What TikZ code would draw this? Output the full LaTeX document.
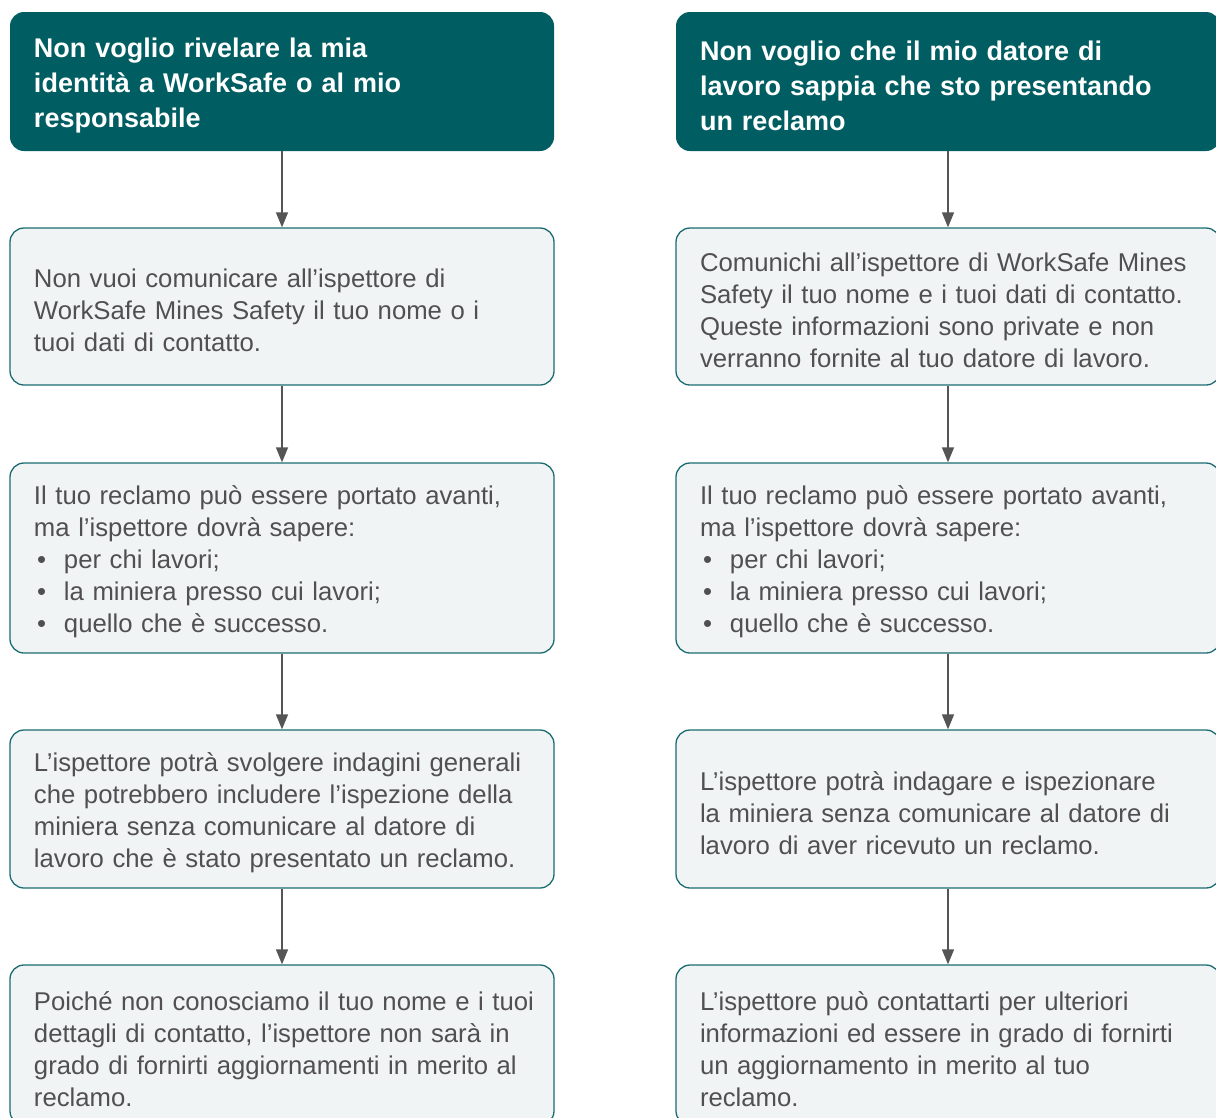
\documentclass[tikz,border=0pt]{standalone}
\usepackage{fontspec}
\setmainfont{Liberation Sans}
\usetikzlibrary{arrows.meta}
\definecolor{headteal}{HTML}{005E62}
\definecolor{edgeteal}{HTML}{1A6C70}
\definecolor{boxfill}{HTML}{F1F4F5}
\definecolor{bodytext}{HTML}{505050}
\definecolor{arrowgray}{HTML}{555555}
\newcommand{\bul}[1]{\hspace*{3pt}\makebox[27pt][l]{•}#1}
\tikzset{
  headbox/.style={rectangle, rounded corners=14pt, fill=headteal, text=white,
    minimum width=544pt, text width=530pt, align=left,
    execute at begin node={\leftskip=17pt},
    execute at end node={\par\vspace*{-8pt}},
    font=\fontsize{27}{35}\selectfont\bfseries},
  stepbox/.style={rectangle, rounded corners=14pt, draw=edgeteal, line width=1.3pt,
    fill=boxfill, text=bodytext, minimum width=544pt, text width=530pt, align=left,
    execute at begin node={\leftskip=17pt},
    execute at end node={\par\vspace*{-8pt}},
    font=\fontsize{25.7}{32}\selectfont},
  link/.style={draw=arrowgray, line width=1.4pt, -{Triangle[width=12pt,length=15pt]}}
}
\begin{document}
\begin{tikzpicture}[x=1pt, y=-1pt]
  \useasboundingbox (0,0) rectangle (1216,1117);

  % Nodes, left column
  \node[headbox, minimum height=139pt] (LeftHead) at (282, 81.5)
    {Non voglio rivelare la mia\\identità a WorkSafe o al mio\\responsabile};
  \node[stepbox, minimum height=157pt] (LeftName) at (282, 306.5)
    {Non vuoi comunicare all’ispettore di\\WorkSafe Mines Safety il tuo nome o i\\tuoi dati di contatto.};
  \node[stepbox, minimum height=190pt] (LeftNeed) at (282, 558)
    {Il tuo reclamo può essere portato avanti,\\ma l’ispettore dovrà sapere:\\\bul{per chi lavori;}\\\bul{la miniera presso cui lavori;}\\\bul{quello che è successo.}};
  \node[stepbox, minimum height=158pt] (LeftProbe) at (282, 809)
    {L’ispettore potrà svolgere indagini generali\\che potrebbero includere l’ispezione della\\miniera senza comunicare al datore di\\lavoro che è stato presentato un reclamo.};
  \node[stepbox, minimum height=160pt] (LeftEnd) at (282, 1045)
    {Poiché non conosciamo il tuo nome e i tuoi\\dettagli di contatto, l’ispettore non sarà in\\grado di fornirti aggiornamenti in merito al\\reclamo.};

  % Nodes, right column
  \node[headbox, minimum height=139pt] (RightHead) at (948, 81.5)
    {Non voglio che il mio datore di\\lavoro sappia che sto presentando\\un reclamo};
  \node[stepbox, minimum height=157pt] (RightName) at (948, 306.5)
    {Comunichi all’ispettore di WorkSafe Mines\\Safety il tuo nome e i tuoi dati di contatto.\\Queste informazioni sono private e non\\verranno fornite al tuo datore di lavoro.};
  \node[stepbox, minimum height=190pt] (RightNeed) at (948, 558)
    {Il tuo reclamo può essere portato avanti,\\ma l’ispettore dovrà sapere:\\\bul{per chi lavori;}\\\bul{la miniera presso cui lavori;}\\\bul{quello che è successo.}};
  \node[stepbox, minimum height=158pt] (RightProbe) at (948, 809)
    {L’ispettore potrà indagare e ispezionare\\la miniera senza comunicare al datore di\\lavoro di aver ricevuto un reclamo.};
  \node[stepbox, minimum height=160pt] (RightEnd) at (948, 1045)
    {L’ispettore può contattarti per ulteriori\\informazioni ed essere in grado di fornirti\\un aggiornamento in merito al tuo\\reclamo.};

  % Arrows
  \draw[link] (LeftHead) -- (LeftName);
  \draw[link] (LeftName) -- (LeftNeed);
  \draw[link] (LeftNeed) -- (LeftProbe);
  \draw[link] (LeftProbe) -- (LeftEnd);
  \draw[link] (RightHead) -- (RightName);
  \draw[link] (RightName) -- (RightNeed);
  \draw[link] (RightNeed) -- (RightProbe);
  \draw[link] (RightProbe) -- (RightEnd);
\end{tikzpicture}
\end{document}
